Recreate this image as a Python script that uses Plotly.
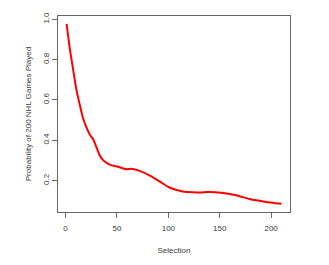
import plotly.graph_objects as go

selection = [1, 4, 7.5, 10.5, 14, 17, 20.5, 23.5, 27, 30, 33, 36.5, 41, 45, 51, 59, 64, 72, 83.5, 95, 100, 108, 114, 124, 132, 137, 151.5, 166, 179, 195, 210]
probability = [0.977, 0.858, 0.746, 0.652, 0.572, 0.509, 0.461, 0.428, 0.404, 0.366, 0.327, 0.301, 0.284, 0.275, 0.268, 0.256, 0.259, 0.248, 0.221, 0.184, 0.168, 0.153, 0.146, 0.142, 0.141, 0.143, 0.140, 0.127, 0.108, 0.094, 0.085]

x_ticks = [0, 50, 100, 150, 200]
y_ticks = [0.2, 0.4, 0.6, 0.8, 1.0]
y_tick_text = ["0.2", "0.4", "0.6", "0.8", "1.0"]

fig = go.Figure(go.Scatter(x=selection, y=probability, mode="lines",
                           line=dict(color="#ff0000", width=2, shape="spline", smoothing=0.4),
                           hoverinfo="skip"))

axis_font = dict(family="Liberation Sans, Arial", size=8, color="#3a3a3a")
fig.update_layout(
    width=329, height=265,
    margin=dict(l=58, r=39, t=15, b=47),
    paper_bgcolor="white", plot_bgcolor="white",
    showlegend=False,
    font=axis_font,
)
fig.update_xaxes(range=[-7.36, 218.36], tickvals=x_ticks, showgrid=False, zeroline=False,
                 showline=True, mirror=True, linecolor="#666666", linewidth=1,
                 ticks="outside", ticklen=5, tickcolor="#666666", tickfont=axis_font,
                 ticklabelstandoff=3,
                 title=dict(text="Selection", font=axis_font, standoff=15))
fig.update_yaxes(range=[0.044, 1.016], tickvals=y_ticks, ticktext=y_tick_text, tickangle=-90,
                 showgrid=False, zeroline=False,
                 showline=True, mirror=True, linecolor="#666666", linewidth=1,
                 ticks="outside", ticklen=5, tickcolor="#666666", tickfont=axis_font,
                 title=dict(text="Probability of 200 NHL Games Played", font=axis_font, standoff=8))

fig.write_html("out.html")
